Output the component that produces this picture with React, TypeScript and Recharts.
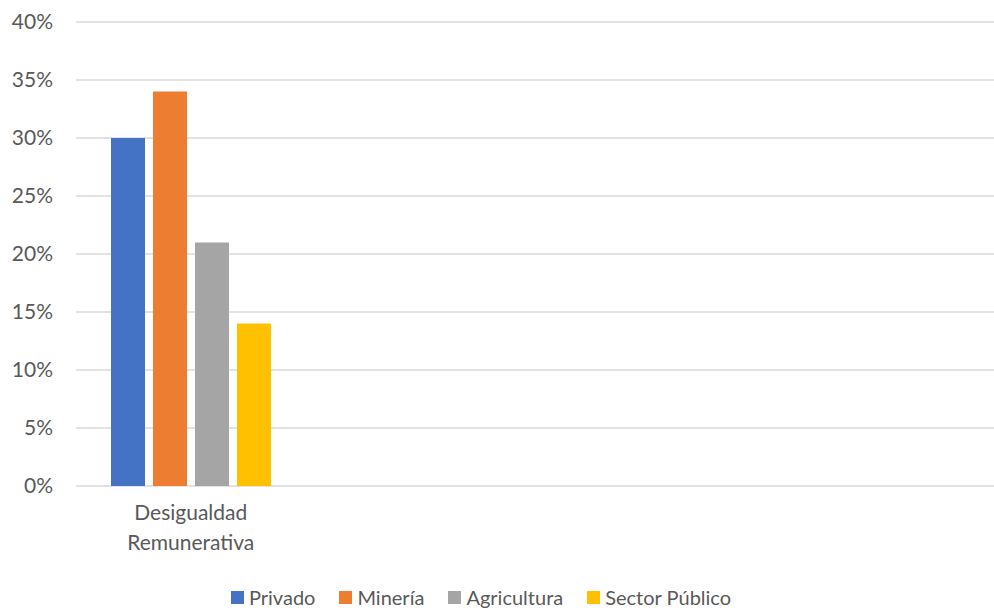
import React from "react";
import { BarChart, Bar, XAxis, YAxis, CartesianGrid, Legend } from "recharts";

const categories = ["Desigualdad Remunerativa", " ", "  ", "   "];
const privado = [0.30, null, null, null];
const mineria = [0.34, null, null, null];
const agricultura = [0.21, null, null, null];
const sectorPublico = [0.14, null, null, null];
const yTicks = [0, 0.05, 0.1, 0.15, 0.2, 0.25, 0.3, 0.35, 0.4];

const seriesNames = ["Privado", "Minería", "Agricultura", "Sector Público"];
const seriesKeys = ["privado", "mineria", "agricultura", "sector"];
const colors = ["#4472C4", "#ED7D31", "#A5A5A5", "#FFC000"];

const data = categories.map((c, i) => ({
  name: c,
  privado: privado[i],
  mineria: mineria[i],
  agricultura: agricultura[i],
  sector: sectorPublico[i],
}));

const FONT = "Lato, 'Open Sans', sans-serif";
const TXT = "#595959";

const XTick = (props: any) => {
  const { x, y, payload } = props;
  const words = String(payload.value).trim().split(" ").filter(Boolean);
  return (
    <text x={x} y={y} textAnchor="middle" fill={TXT} fontSize={21} fontFamily={FONT}>
      {words.map((w: string, i: number) => (
        <tspan key={i} x={x} dy={i === 0 ? 26 : 30}>
          {w}
        </tspan>
      ))}
    </text>
  );
};

const LegendContent = () => (
  <div
    style={{
      display: "flex",
      justifyContent: "center",
      alignItems: "center",
      height: 26,
      fontFamily: FONT,
      fontSize: 20,
      color: TXT,
      transform: "translateX(-16px)",
    }}
  >
    {seriesNames.map((n, i) => (
      <div key={n} style={{ display: "flex", alignItems: "center", marginRight: i < 3 ? 24 : 0 }}>
        <span style={{ width: 13, height: 13, background: colors[i], display: "inline-block", marginRight: 5 }} />
        <span>{n}</span>
      </div>
    ))}
  </div>
);

export default function App() {
  return (
    <div style={{ position: "absolute", left: 0, top: 0, width: 994, height: 610, background: "#fff" }}>
      <BarChart
        width={994}
        height={610}
        data={data}
        margin={{ top: 22, right: 0, left: 0, bottom: 0 }}
        barCategoryGap={35}
        barGap={8}
      >
        <CartesianGrid vertical={false} stroke="#D9D9D9" strokeWidth={1.5} />
        <XAxis
          dataKey="name"
          axisLine={false}
          tickLine={false}
          height={98}
          tick={<XTick />}
          interval={0}
        />
        <YAxis
          width={76}
          domain={[0, 0.4]}
          ticks={yTicks}
          axisLine={false}
          tickLine={false}
          tickMargin={17}
          tickFormatter={(v: number) => `${Math.round(v * 100)}%`}
          tick={{ fill: TXT, fontSize: 21, fontFamily: FONT }}
        />
        <Legend verticalAlign="bottom" height={26} content={<LegendContent />} />
        {seriesKeys.map((k, i) => (
          <Bar key={k} dataKey={k} name={seriesNames[i]} fill={colors[i]} isAnimationActive={false} />
        ))}
      </BarChart>
    </div>
  );
}
